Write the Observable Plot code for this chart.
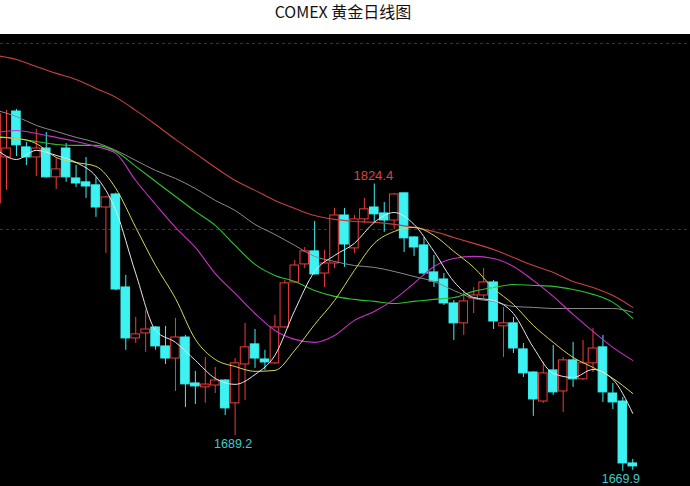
<!DOCTYPE html>
<html>
<head>
<meta charset="utf-8">
<script src="https://cdn.jsdelivr.net/npm/d3@7"></script>
<script src="https://cdn.jsdelivr.net/npm/@observablehq/plot@0.6"></script>
<style>
  html, body { margin: 0; padding: 0; background: #fff; overflow: hidden; }
  #title { box-sizing: border-box; height: 34px; padding-top: 1px; line-height: 20px; text-align: center; font-family: "Noto Sans CJK SC", "Open Sans", sans-serif; font-size: 16px; color: #111; width: 686px; white-space: nowrap; }
  #chart svg { display: block; }
</style>
</head>
<body>
<div id="title"></div>
<div id="chart"></div>
<script>
const titleText = "COMEX 黄金日线图";

// Daily candles (index = trading day)
const opens  = [1814.0,1838.7,1863.4,1844.1,1838.7,1843.5,1828.0,1843.5,1827.4,1825.3,1823.7,1811.8,1818.8,1768.8,1741.4,1744.1,1747.3,1737.1,1730.6,1741.9,1717.2,1715.1,1716.1,1718.8,1706.5,1727.4,1738.2,1730.1,1728.0,1747.3,1771.5,1781.2,1788.2,1776.3,1781.7,1807.5,1789.8,1805.4,1811.8,1808.6,1804.8,1819.4,1795.7,1791.4,1776.9,1773.1,1760.2,1749.5,1762.9,1764.5,1771.5,1747.9,1749.5,1735.5,1723.1,1707.5,1724.2,1712.9,1729.6,1719.4,1728.0,1736.6,1711.8,1707.5,1674.2];
const highs  = [1864.0,1864.0,1864.5,1846.8,1853.8,1852.1,1838.2,1846.2,1834.4,1838.7,1828.0,1817.6,1819.5,1775.3,1752.7,1756.5,1747.8,1747.9,1752.2,1743.0,1723.7,1731.2,1725.8,1719.3,1730.6,1749.5,1746.2,1735.0,1753.8,1772.6,1783.3,1790.3,1804.3,1788.7,1811.3,1811.3,1807.5,1816.7,1824.4,1814.5,1819.4,1819.6,1796.0,1795.7,1786.0,1776.3,1761.8,1767.2,1768.8,1779.0,1772.6,1758.1,1752.7,1738.7,1723.5,1728.5,1737.6,1731.2,1739.3,1740.3,1746.8,1743.0,1717.2,1709.7,1676.4];
const lows   = [1813.0,1821.0,1839.2,1834.4,1828.5,1827.6,1821.5,1825.3,1822.6,1816.7,1806.5,1787.1,1767.0,1735.0,1738.7,1733.9,1735.0,1727.4,1712.9,1704.3,1705.9,1706.5,1711.8,1700.0,1689.2,1708.1,1725.3,1724.2,1727.5,1747.0,1771.0,1779.0,1775.5,1768.8,1779.0,1779.6,1787.1,1803.2,1803.2,1798.4,1800.0,1787.6,1785.5,1775.3,1768.8,1759.1,1740.3,1743.0,1754.8,1762.9,1746.2,1731.2,1733.3,1720.4,1699.5,1706.5,1710.8,1701.6,1715.1,1718.8,1723.1,1707.0,1703.2,1669.9,1670.5];
const closes = [1862.0,1843.5,1845.2,1838.7,1843.5,1828.0,1832.3,1828.0,1824.7,1823.1,1811.8,1817.2,1767.7,1741.4,1743.6,1746.2,1737.1,1730.6,1741.9,1716.7,1715.6,1716.6,1718.8,1703.8,1728.0,1736.6,1730.6,1728.5,1747.3,1771.0,1780.6,1788.2,1775.8,1781.7,1807.5,1791.9,1805.4,1810.8,1808.1,1804.8,1818.8,1795.2,1790.3,1776.3,1772.0,1760.2,1749.5,1761.3,1764.5,1771.5,1750.5,1749.5,1736.0,1722.6,1708.6,1722.6,1712.4,1729.6,1719.4,1728.0,1736.0,1712.4,1707.0,1674.2,1672.6];

// Moving averages read at every second day
const maDays = [0,2,4,6,8,10,12,14,16,18,20,22,24,26,28,30,32,34,36,38,40,42,44,46,48,50,52,54,56,58,60,62,64];
const ma5   = [1843.0,1837.6,1842.5,1839.8,1836.0,1828.5,1810.2,1776.3,1745.7,1739.3,1729.6,1719.9,1716.7,1722.0,1732.3,1756.5,1777.4,1786.0,1792.5,1803.8,1809.1,1802.7,1788.2,1772.0,1763.4,1761.8,1754.8,1736.6,1722.6,1720.4,1724.7,1719.4,1701.1];
const ma10  = [1849.5,1848.9,1846.2,1838.7,1836.0,1833.9,1822.0,1801.1,1780.6,1762.9,1740.9,1730.1,1726.3,1723.7,1724.2,1735.0,1748.9,1761.8,1778.0,1792.5,1798.9,1801.1,1796.8,1788.2,1779.6,1768.3,1759.7,1748.4,1739.3,1731.2,1725.8,1719.9,1711.8];
const ma20  = [1852.1,1853.2,1851.6,1849.5,1847.3,1844.6,1840.9,1826.3,1813.4,1801.1,1790.3,1776.3,1765.6,1754.8,1745.7,1740.9,1739.3,1743.0,1751.1,1755.9,1762.4,1771.0,1780.1,1784.4,1785.5,1784.4,1780.1,1772.6,1764.0,1754.3,1745.2,1736.6,1729.6];
const ma30  = [1850.0,1848.9,1847.3,1845.7,1845.2,1845.2,1841.9,1833.9,1825.8,1817.7,1809.7,1802.2,1791.4,1781.2,1775.3,1772.0,1767.2,1764.0,1762.4,1761.3,1760.2,1761.3,1762.4,1763.4,1766.7,1768.8,1770.4,1769.9,1769.4,1767.7,1765.1,1760.8,1752.2];
const ma60  = [1864.0,1860.7,1855.9,1852.7,1849.5,1846.8,1842.5,1837.1,1831.7,1827.4,1822.0,1815.6,1810.2,1802.7,1797.3,1791.4,1785.5,1782.8,1780.6,1779.6,1777.4,1774.7,1772.0,1767.2,1762.9,1761.3,1758.6,1758.1,1757.5,1757.5,1757.5,1757.5,1755.4];
const ma120 = [1893.5,1891.4,1887.6,1883.9,1880.6,1875.8,1871.0,1864.0,1856.4,1848.4,1840.9,1833.3,1826.3,1821.0,1815.6,1811.3,1807.5,1805.4,1804.3,1803.8,1802.7,1801.1,1798.9,1795.7,1792.5,1789.2,1784.9,1780.6,1776.9,1772.0,1768.8,1764.5,1758.1];

const gridLevels = [1800, 1900];

const markDays   = [38, 24, 63];
const markValues = [1824.4, 1689.2, 1669.9];
const markKinds  = ["high", "low", "low"];

// ---- build tables ----
const candles = opens.map((o, i) => ({i, o, h: highs[i], l: lows[i], c: closes[i], up: closes[i] >= o}));
const maSeries = [
  {name: "MA120", vals: ma120, color: "#c94040", w: 1.1},
  {name: "MA60",  vals: ma60,  color: "#8a8a8a", w: 1},
  {name: "MA30",  vals: ma30,  color: "#2fc22f", w: 1.1},
  {name: "MA20",  vals: ma20,  color: "#c832c8", w: 1.1},
  {name: "MA10",  vals: ma10,  color: "#d6d65a", w: 1},
  {name: "MA5",   vals: ma5,   color: "#e8e8e8", w: 1}
];
const labels = markDays.map((d, k) => ({i: d, v: markValues[k], kind: markKinds[k], t: markValues[k].toFixed(1)}));

const UP = "#ee3c3c", DOWN = "#3cf2f2";
const half = 0.43;

const marks = [
  Plot.ruleY(gridLevels, {stroke: "#7a2020", strokeDasharray: "3,3", strokeWidth: 1}),
  Plot.ruleX(candles, {x: "i", y1: "l", y2: "h", stroke: d => d.up ? UP : DOWN, strokeWidth: 1, clip: true}),
  Plot.rect(candles, {x1: d => d.i - half, x2: d => d.i + half, y1: "o", y2: "c",
    fill: d => d.up ? "#000" : DOWN, stroke: d => d.up ? UP : DOWN, strokeWidth: 1, clip: true})
];
for (const s of maSeries) {
  marks.push(Plot.line(maDays.map((d, k) => ({i: d, v: s.vals[k]})),
    {x: "i", y: "v", stroke: s.color, strokeWidth: s.w, curve: "monotone-x", clip: true}));
}
marks.push(Plot.text(labels.filter(d => d.kind === "high"), {x: "i", y: "v", text: "t", dy: -8, dx: -1, fill: "#dc4444", fontSize: 13, fontFamily: "Liberation Sans, Arial, sans-serif"}));
marks.push(Plot.text(labels.filter(d => d.kind === "low"), {x: "i", y: "v", text: "t", dy: 8, dx: -2, fill: "#3ccccc", fontSize: 12.5, fontFamily: "Liberation Sans, Arial, sans-serif"}));

document.getElementById("title").textContent = titleText;

const chart = Plot.plot({
  width: 690,
  height: 452,
  margin: 0,
  x: {type: "linear", domain: [0.3964, 69.81], axis: null},
  y: {type: "linear", domain: [1661.8, 1904.8], axis: null},
  style: {background: "#000", overflow: "hidden"},
  marks
});
document.getElementById("chart").appendChild(chart);
</script>
</body>
</html>
